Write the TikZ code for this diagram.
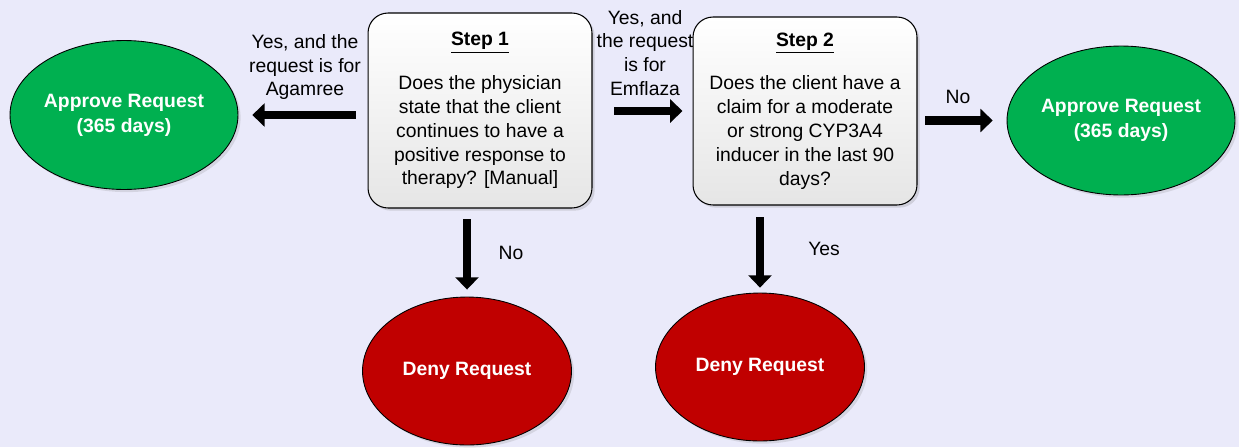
\documentclass[tikz,border=0pt]{standalone}
\usepackage{fontspec}
\setmainfont{Liberation Sans}
\usetikzlibrary{arrows.meta,shapes.geometric,shadows}
\definecolor{bgcol}{RGB}{234,234,250}
\definecolor{okgreen}{RGB}{0,176,80}
\definecolor{nored}{RGB}{192,0,0}
\tikzset{
  stepbox/.style={draw, line width=0.6pt, rounded corners=0.4cm, top color=white,
    bottom color=gray!20, minimum width=4.48cm, inner sep=0pt, align=center,
    font=\fontsize{11}{13.6}\selectfont,
    drop shadow={opacity=0.25, shadow xshift=1.5pt, shadow yshift=-1.5pt}},
  endnode/.style={ellipse, draw, line width=0.5pt, inner sep=0pt, text=white,
    align=center, font=\bfseries\fontsize{11}{14.2}\selectfont,
    drop shadow={opacity=0.2, shadow xshift=1.5pt, shadow yshift=-1.5pt}},
  approve/.style={endnode, fill=okgreen, minimum width=4.56cm, minimum height=2.98cm},
  deny/.style={endnode, fill=nored, minimum width=4.18cm, minimum height=2.96cm},
  fat/.style={line width=4.6pt, -{Triangle[length=7pt,width=13pt]}},
  lbl/.style={align=center, inner sep=0pt, font=\fontsize{11}{13.6}\selectfont}
}
\begin{document}
\begin{tikzpicture}[x=0.02cm,y=-0.02cm]
  \fill[bgcol] (0,0) rectangle (1239,447);
  \useasboundingbox (0,0) rectangle (1239,447);
  \draw
    (480,110.5) node[stepbox, minimum height=3.9cm] (s1)
      {\underline{\textbf{Step 1}}\\[11.3pt]Does the physician\\state that the client\\continues to have a\\positive response to\\therapy? [Manual]}
    (805,111) node[stepbox, minimum height=3.76cm] (s2)
      {\underline{\textbf{Step 2}}\\[11.3pt]Does the client have a\\claim for a moderate\\or strong CYP3A4\\inducer in the last 90\\days?}
    (124,115) node[approve] (a1) {Approve Request\\(365 days)}
    (1121,120.5) node[approve] (a2) {Approve Request\\(365 days)}
    (467,371) node[deny] (d1) {Deny Request}
    (760,367) node[deny] (d2) {Deny Request};
  \begin{scope}[fat]
    \draw[shorten <=6.8pt, shorten >=7.9pt] (s1.west |- a1.east) to (a1.east);
    \draw[yshift=-3.4pt, shorten <=12.5pt, shorten >=5.7pt] (s1.east |- s2.west) to (s2.west);
    \draw[shorten <=4.5pt, shorten >=7.9pt] (s2.east |- a2.west) to (a2.west);
    \draw[shorten <=6.2pt, shorten >=4pt] (d1.north |- s1.south) to (d1.north);
    \draw[shorten <=6.8pt, shorten >=2.8pt] (d2.north |- s2.south) to (d2.north);
  \end{scope}
  \draw
    (305,67) node[lbl] (l1) {Yes, and the\\request is for\\Agamree}
    (645,53) node[lbl] (l2) {Yes, and\\the request\\is for\\Emflaza}
    (958,97) node[lbl] (l3) {No}
    (511,253) node[lbl] (l4) {No}
    (824,249) node[lbl] (l5) {Yes};
\end{tikzpicture}
\end{document}
